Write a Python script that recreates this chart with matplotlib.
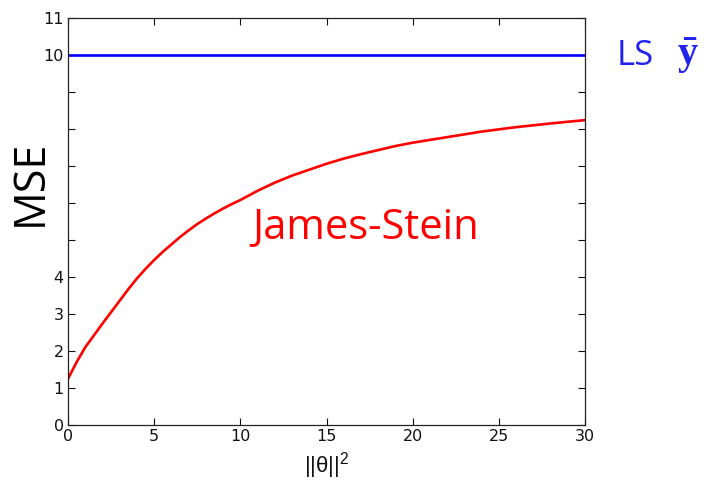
import matplotlib
matplotlib.use("Agg")
import matplotlib.pyplot as plt
import numpy as np

plt.rcParams['mathtext.fontset'] = 'custom'
plt.rcParams['mathtext.rm'] = 'Liberation Sans'
plt.rcParams['mathtext.it'] = 'Liberation Sans:italic'
plt.rcParams['mathtext.bf'] = 'Liberation Serif:bold'

# data
theta_sq = [0, 0.5, 1, 1.5, 2, 2.5, 3, 3.5, 4, 4.5, 5, 5.5, 6, 6.5, 7, 7.5, 8, 8.5, 9, 9.5, 10,
            11, 12, 13, 14, 15, 16, 17, 18, 19, 20, 22, 24, 26, 28, 30]
js_mse = [1.25, 1.7, 2.1, 2.42, 2.74, 3.05, 3.36, 3.67, 3.96, 4.22, 4.46, 4.68, 4.88, 5.08,
          5.26, 5.43, 5.58, 5.72, 5.85, 5.97, 6.08, 6.33, 6.55, 6.74, 6.9, 7.06, 7.2,
          7.32, 7.43, 7.54, 7.63, 7.78, 7.93, 8.05, 8.15, 8.24]
ls_x = [0, 30]
ls_mse = [10, 10]
x_ticks = [0, 5, 10, 15, 20, 25, 30]
y_ticks = list(range(0, 12))
y_tick_labels = ['0', '1', '2', '3', '4', '', '', '', '', '', '10', '11']

fig = plt.figure(figsize=(7.1, 4.91), dpi=100)
ax = fig.add_axes([68/710, 1-425/491, (585-68)/710, (425-18)/491])

ax.plot(ls_x, ls_mse, color='#0000ff', lw=1.9)
ax.plot(theta_sq, js_mse, color='#ff0000', lw=1.9)

ax.set_xlim(0, 30)
ax.set_ylim(0, 11)
ax.set_xticks(x_ticks)
ax.set_yticks(y_ticks)
ax.set_yticklabels(y_tick_labels)
ax.tick_params(direction='in', length=5, width=0.8, top=True, right=True,
               labelsize=11.5, colors='#111111', pad=3)
for s in ax.spines.values():
    s.set_color('#222222')
    s.set_linewidth(0.9)

ax.set_xlabel(r'$\mathrm{||θ||}^{2}$', fontsize=16, color='#111111', labelpad=4)

fig.text(366/710, 1-228/491, 'James-Stein', color='#ff0000', fontsize=30,
         family='Open Sans', ha='center', va='center')
fig.text(30/710, 1-183/491, 'MSE', color='black', fontsize=31, family='Open Sans',
         rotation=90, ha='center', va='center')
fig.text(617/710, 1-65/491, 'LS', color='#2222ee', fontsize=25,
         family='Open Sans', ha='left', va='baseline')
fig.text(677/710, 1-65/491, r'$\mathbf{\bar{y}}$', color='#2222ee', fontsize=29,
         ha='left', va='baseline')

fig.savefig('out.png', dpi=100)
